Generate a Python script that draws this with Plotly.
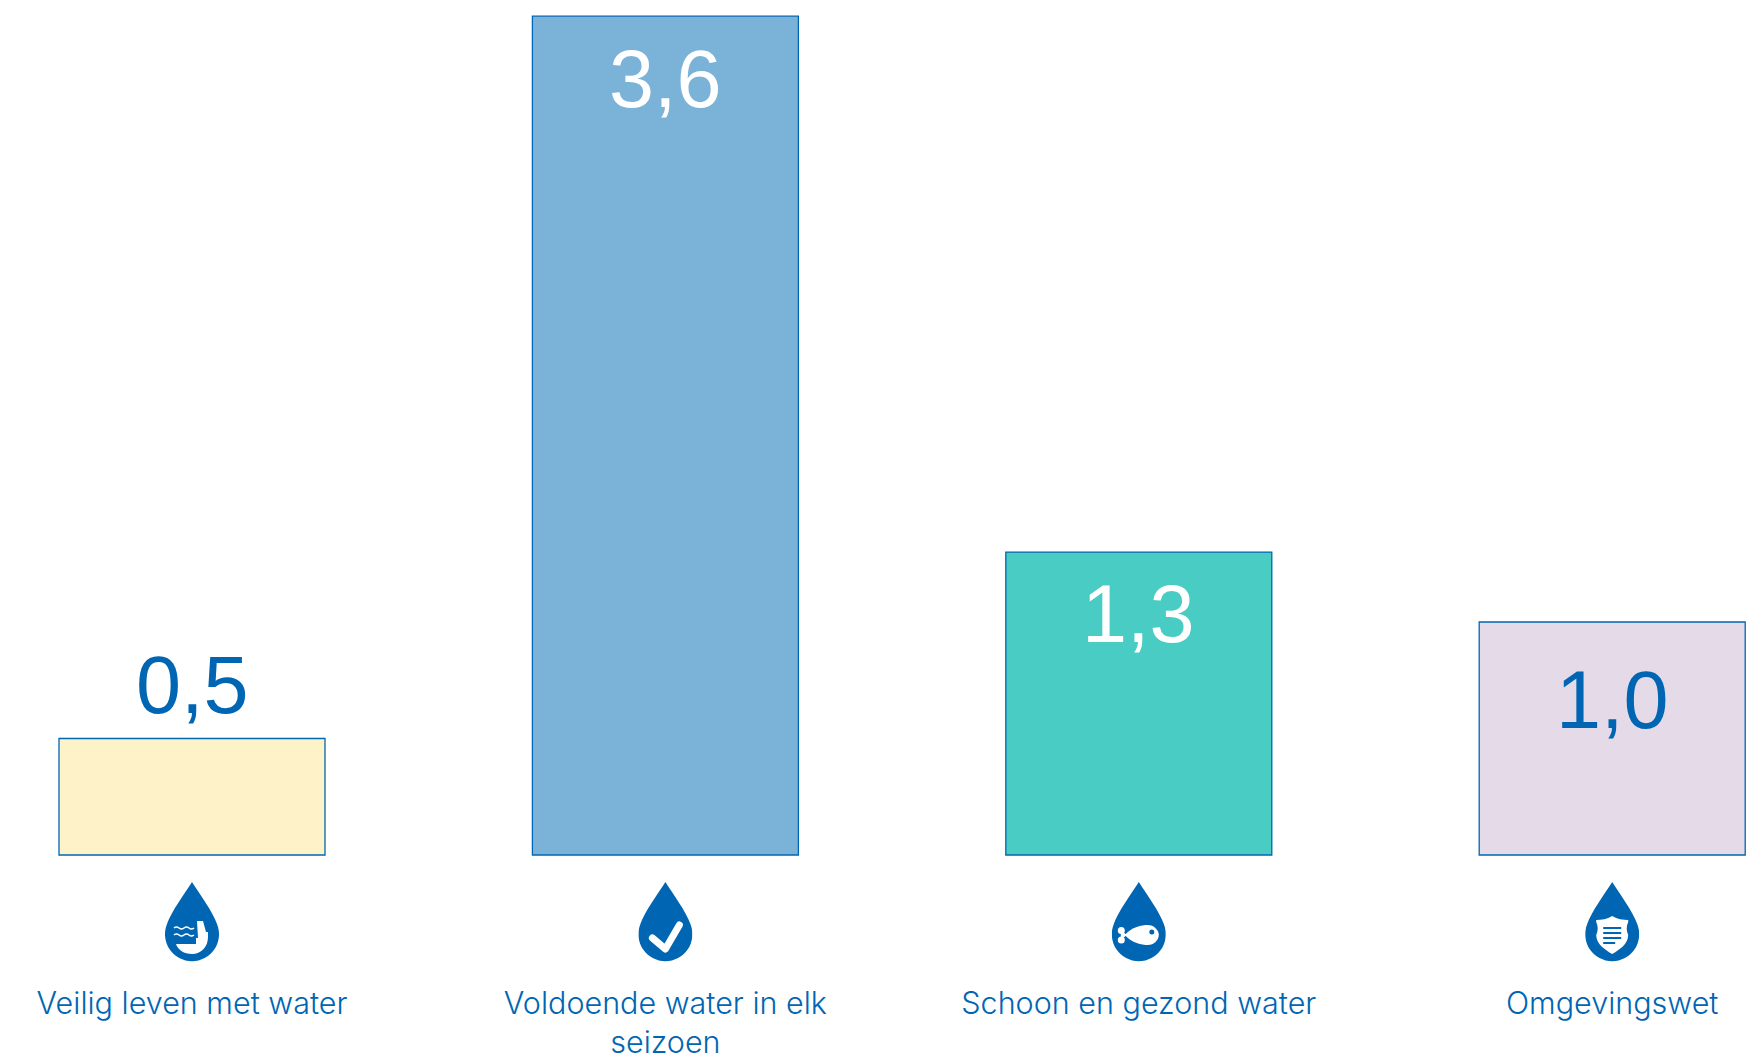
import base64
import plotly.graph_objects as go

categories = ["Veilig leven met water", "Voldoende water in elk<br>seizoen", "Schoon en gezond water", "Omgevingswet"]
values = [0.5, 3.6, 1.3, 1.0]
value_labels = ["0,5", "3,6", "1,3", "1,0"]
fills = ["#FDF2C8", "#7BB3D8", "#48CCC3", "#E5DAE8"]
label_colors = ["#0066B3", "#FFFFFF", "#FFFFFF", "#0066B3"]
label_shifts = [54, -63, -62, -78]

BLUE = "#0066B3"
W, H = 1746, 1058
PITCH = 473.4
UNIT = 233.0
BASE = 855
BOTTOM = 982

DROP = '<path fill="#0066B3" d="M27 0C20 11 6 30 2 42A27 27 0 1 0 52 42C48 30 34 11 27 0Z"/>'
ICONS = [
    '<g fill="none" stroke="#fff" stroke-width="1.6"><path d="M9 46q2.5-2 5 0t5 0t5 0t5 0"/><path d="M9 53q2.5-2 5 0t5 0t5 0t5 0"/></g>'
    '<path fill="#fff" d="M32 39L38 39L41 50L43 50L43 55C43 65 36 72 27 72C19 72 13 68 11 62L31 62L31 56L33 56Z"/>',
    '<path fill="none" stroke="#fff" stroke-width="7" stroke-linecap="round" stroke-linejoin="round" d="M14 56L27 67L41 43"/>',
    '<path fill="#fff" d="M13 53C20 45 30 43 36 43C42 43 47 48 47 53C47 58 42 63 36 63C30 63 20 61 13 53Z"/>'
    '<circle cx="9.5" cy="48.5" r="3.5" fill="#fff"/><circle cx="9.5" cy="58" r="3.5" fill="#fff"/>'
    '<path fill="#fff" d="M9 48L15 53L9 58Z"/><circle cx="40" cy="50" r="2.5" fill="#0066B3"/>',
    '<path fill="#fff" d="M11 38C16 38 22 37 27 34C32 37 38 38 43 38L43 40C41 44 41 49 43 53C43 62 34 68 27 72C20 68 11 62 11 53C13 49 13 44 11 40Z"/>'
    '<path stroke="#0066B3" stroke-width="2" fill="none" d="M18 46H36M18 51H36M18 56H36M18 61H30"/>',
]


def icon_uri(body):
    svg = f'<svg xmlns="http://www.w3.org/2000/svg" width="54" height="80" viewBox="0 0 54 80">{DROP}{body}</svg>'
    return "data:image/svg+xml;base64," + base64.b64encode(svg.encode()).decode()


x = list(range(len(categories)))
fig = go.Figure(
    go.Bar(
        x=x,
        y=values,
        width=266 / PITCH,
        marker=dict(color=fills, line=dict(color=BLUE, width=1.3)),
        hoverinfo="skip",
    )
)

for i, v in enumerate(values):
    fig.add_annotation(
        x=i, y=v, text=value_labels[i], showarrow=False, yshift=label_shifts[i],
        xanchor="center", yanchor="middle",
        font=dict(family="Liberation Sans", size=81, color=label_colors[i]),
    )
    fig.add_layout_image(
        source=icon_uri(ICONS[i]), xref="x", yref="y", x=i, y=-(882 - BASE) / UNIT,
        sizex=54 / PITCH, sizey=80 / UNIT, xanchor="center", yanchor="top",
        sizing="stretch", layer="above",
    )

fig.update_layout(
    width=W, height=H, autosize=False,
    margin=dict(l=0, r=0, t=0, b=H - BOTTOM, pad=0, autoexpand=False),
    paper_bgcolor="white", plot_bgcolor="white",
    showlegend=False,
    xaxis=dict(
        range=[-192 / PITCH, (W - 192) / PITCH],
        tickmode="array", tickvals=x, ticktext=categories,
        tickfont=dict(family="Inter", size=30.5, color=BLUE, weight=300),
        showgrid=False, zeroline=False, showline=False, ticks="", ticklabelstandoff=0,
        automargin=False,
    ),
    yaxis=dict(
        range=[-(BOTTOM - BASE) / UNIT, BASE / UNIT],
        visible=False, showgrid=False, zeroline=False, automargin=False,
    ),
)
fig.write_html(
    "out.html",
    config={"displayModeBar": False},
    post_script="document.body.style.margin='0';document.documentElement.style.overflow='hidden';",
)
